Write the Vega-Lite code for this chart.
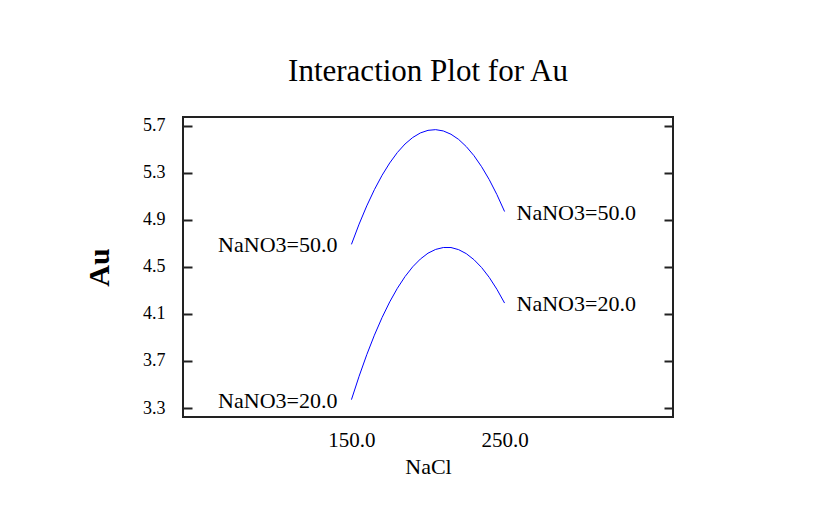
{
  "$schema": "https://vega.github.io/schema/vega-lite/v6.json",
  "width": 490,
  "height": 300,
  "autosize": "none",
  "padding": {"left": 183, "top": 117, "right": 159, "bottom": 96},
  "background": "white",
  "config": {
    "font": "Liberation Serif",
    "view": {"stroke": "#222222", "strokeWidth": 2},
    "axis": {"grid": false, "domain": false, "labelFont": "Liberation Serif", "titleFont": "Liberation Serif", "labelColor": "#000", "titleColor": "#000", "tickColor": "#222"}
  },
  "title": {
    "text": "Interaction Plot for Au",
    "font": "Liberation Serif",
    "fontSize": 31,
    "fontWeight": "normal",
    "color": "#000",
    "anchor": "middle",
    "frame": "group",
    "baseline": "alphabetic",
    "offset": 5
  },
  "data": {
    "values": [
      {"NaNO3": 50, "NaCl": 150, "Au": 4.691},
      {"NaNO3": 50, "NaCl": 155, "Au": 4.863},
      {"NaNO3": 50, "NaCl": 160, "Au": 5.018},
      {"NaNO3": 50, "NaCl": 165, "Au": 5.156},
      {"NaNO3": 50, "NaCl": 170, "Au": 5.278},
      {"NaNO3": 50, "NaCl": 175, "Au": 5.383},
      {"NaNO3": 50, "NaCl": 180, "Au": 5.472},
      {"NaNO3": 50, "NaCl": 185, "Au": 5.544},
      {"NaNO3": 50, "NaCl": 190, "Au": 5.599},
      {"NaNO3": 50, "NaCl": 195, "Au": 5.638},
      {"NaNO3": 50, "NaCl": 200, "Au": 5.660},
      {"NaNO3": 50, "NaCl": 205, "Au": 5.666},
      {"NaNO3": 50, "NaCl": 210, "Au": 5.655},
      {"NaNO3": 50, "NaCl": 215, "Au": 5.627},
      {"NaNO3": 50, "NaCl": 220, "Au": 5.583},
      {"NaNO3": 50, "NaCl": 225, "Au": 5.522},
      {"NaNO3": 50, "NaCl": 230, "Au": 5.445},
      {"NaNO3": 50, "NaCl": 235, "Au": 5.351},
      {"NaNO3": 50, "NaCl": 240, "Au": 5.241},
      {"NaNO3": 50, "NaCl": 245, "Au": 5.114},
      {"NaNO3": 50, "NaCl": 250, "Au": 4.970},
      {"NaNO3": 20, "NaCl": 150, "Au": 3.371},
      {"NaNO3": 20, "NaCl": 155, "Au": 3.570},
      {"NaNO3": 20, "NaCl": 160, "Au": 3.753},
      {"NaNO3": 20, "NaCl": 165, "Au": 3.919},
      {"NaNO3": 20, "NaCl": 170, "Au": 4.069},
      {"NaNO3": 20, "NaCl": 175, "Au": 4.202},
      {"NaNO3": 20, "NaCl": 180, "Au": 4.318},
      {"NaNO3": 20, "NaCl": 185, "Au": 4.417},
      {"NaNO3": 20, "NaCl": 190, "Au": 4.500},
      {"NaNO3": 20, "NaCl": 195, "Au": 4.566},
      {"NaNO3": 20, "NaCl": 200, "Au": 4.616},
      {"NaNO3": 20, "NaCl": 205, "Au": 4.648},
      {"NaNO3": 20, "NaCl": 210, "Au": 4.664},
      {"NaNO3": 20, "NaCl": 215, "Au": 4.664},
      {"NaNO3": 20, "NaCl": 220, "Au": 4.646},
      {"NaNO3": 20, "NaCl": 225, "Au": 4.612},
      {"NaNO3": 20, "NaCl": 230, "Au": 4.561},
      {"NaNO3": 20, "NaCl": 235, "Au": 4.494},
      {"NaNO3": 20, "NaCl": 240, "Au": 4.410},
      {"NaNO3": 20, "NaCl": 245, "Au": 4.309},
      {"NaNO3": 20, "NaCl": 250, "Au": 4.192}
    ]
  },
  "transform": [
    {"calculate": "'NaNO3=' + format(datum.NaNO3, '.1f')", "as": "label"}
  ],
  "encoding": {
    "x": {
      "field": "NaCl",
      "type": "quantitative",
      "scale": {"domain": [40, 360], "nice": false, "zero": false},
      "axis": {
        "title": "NaCl",
        "values": [150, 250],
        "format": ".1f",
        "ticks": false,
        "labelFontSize": 21,
        "labelPadding": 12,
        "titleFontSize": 22,
        "titleFontWeight": "normal",
        "titleBaseline": "alphabetic",
        "titleY": 56
      }
    },
    "y": {
      "field": "Au",
      "type": "quantitative",
      "scale": {"domain": [3.2235, 5.7735], "nice": false, "zero": false},
      "axis": null
    }
  },
  "layer": [
    {
      "mark": {"type": "line", "color": "#0000ff", "strokeWidth": 1},
      "encoding": {
        "detail": {"field": "NaNO3"},
        "y": {
          "field": "Au",
          "type": "quantitative",
          "axis": {
            "orient": "left",
            "offset": -9,
            "title": "Au",
            "values": [3.3, 3.7, 4.1, 4.5, 4.9, 5.3, 5.7],
            "format": ".1f",
            "tickSize": 9,
            "tickWidth": 2,
            "labelFontSize": 18,
            "labelPadding": 18,
            "titleFontSize": 30,
            "titleFontWeight": "bold",
            "titleAngle": 270,
            "titleBaseline": "alphabetic",
            "titleAlign": "center",
            "titleX": -84,
            "titleY": 150
          }
        }
      }
    },
    {
      "transform": [{"filter": "datum.NaCl == 150"}],
      "mark": {"type": "text", "align": "right", "baseline": "middle", "dx": -14, "dy": 1, "fontSize": 22, "font": "Liberation Serif", "color": "#000"},
      "encoding": {"text": {"field": "label"}}
    },
    {
      "transform": [{"filter": "datum.NaCl == 250"}],
      "mark": {"type": "text", "align": "left", "baseline": "middle", "dx": 12, "dy": 1, "fontSize": 22, "font": "Liberation Serif", "color": "#000"},
      "encoding": {
        "text": {"field": "label"},
        "y": {
          "field": "Au",
          "type": "quantitative",
          "axis": {
            "orient": "right",
            "offset": -9,
            "title": null,
            "labels": false,
            "values": [3.3, 3.7, 4.1, 4.5, 4.9, 5.3, 5.7],
            "tickSize": 9,
            "tickWidth": 2
          }
        }
      }
    }
  ],
  "resolve": {"axis": {"y": "independent"}}
}
